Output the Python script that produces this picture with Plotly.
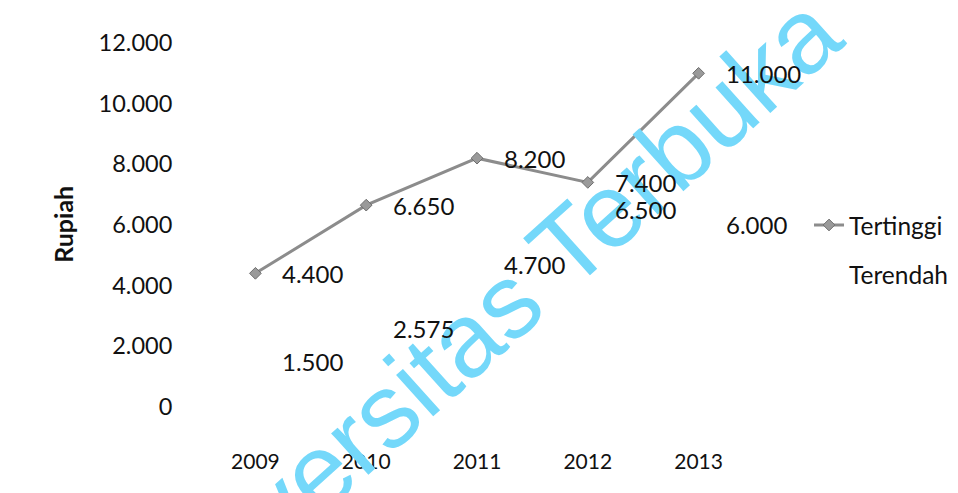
import plotly.graph_objects as go

years = ["2009", "2010", "2011", "2012", "2013"]
tertinggi = [4400, 6650, 8200, 7400, 11000]
terendah = [1500, 2575, 4700, 6500, 6000]
y_ticks = [0, 2000, 4000, 6000, 8000, 10000, 12000]
y_tick_text = ["0", "2.000", "4.000", "6.000", "8.000", "10.000", "12.000"]


def fmt(v):
    return f"{v:,}".replace(",", ".")


FONT = "Lato"
fig = go.Figure()

fig.add_trace(go.Scatter(
    x=years, y=tertinggi, name="Tertinggi", mode="lines+markers",
    line=dict(color="#8c8c8c", width=3),
    marker=dict(symbol="diamond", size=9, color="#9a9a9a",
                line=dict(color="#6e6e6e", width=1)),
    legendgroup="a",
))
fig.add_trace(go.Scatter(
    x=years, y=terendah, name="Terendah", mode="lines",
    line=dict(color="rgba(0,0,0,0)", width=3),
    legendgroup="b",
))

annotations = [dict(
    text="Universitas Terbuka", xref="paper", yref="paper",
    x=0.509, y=0.287, xanchor="center", yanchor="middle",
    showarrow=False, textangle=-42,
    font=dict(family="Liberation Sans", size=105, color="#74D8FA"),
)]
for series in (tertinggi, terendah):
    for i, v in enumerate(series):
        annotations.append(dict(
            x=i, y=v, xref="x", yref="y", text=fmt(v), showarrow=False,
            xanchor="left", yanchor="middle", xshift=26, borderpad=0,
            font=dict(family=FONT, size=24, color="#111111"),
        ))
annotations.append(dict(
    text="<b>Rupiah</b>", xref="paper", yref="y", x=0, y=6000,
    xshift=-137, showarrow=False, textangle=-90,
    xanchor="center", yanchor="middle",
    font=dict(family=FONT, size=25, color="#111111"),
))

fig.update_layout(
    width=950, height=485,
    margin=dict(l=192, r=204, t=35, b=56, autoexpand=False),
    paper_bgcolor="white", plot_bgcolor="white",
    font=dict(family=FONT, color="#111111"),
    showlegend=True,
    legend=dict(
        x=1.0993, y=0.595, xanchor="left", yanchor="top",
        traceorder="grouped", tracegroupgap=15,
        font=dict(family=FONT, size=24.5, color="#111111"),
        bgcolor="rgba(0,0,0,0)",
    ),
    annotations=annotations,
    xaxis=dict(
        type="category", range=[-0.5, 4.5], showgrid=False, zeroline=False,
        showline=False, ticks="outside", ticklen=6, tickcolor="rgba(0,0,0,0)",
        tickfont=dict(family=FONT, size=21, color="#111111"),
    ),
    yaxis=dict(
        range=[-1000, 12000], tickvals=y_ticks, ticktext=y_tick_text,
        showgrid=False, zeroline=False, showline=False,
        ticks="outside", ticklen=22, tickcolor="rgba(0,0,0,0)",
        tickfont=dict(family=FONT, size=23.5, color="#111111"),
    ),
)

fig.write_html("out.html")
